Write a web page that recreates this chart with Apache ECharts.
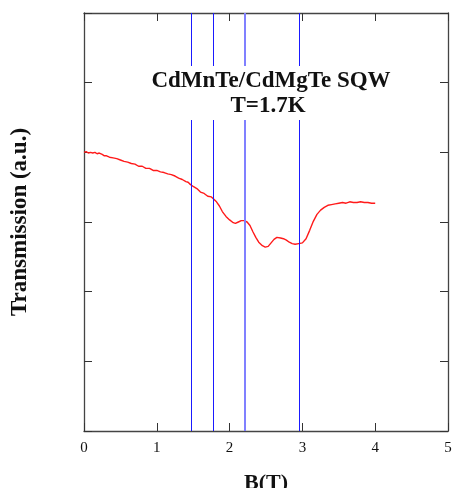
<!DOCTYPE html>
<html>
<head>
<meta charset="utf-8">
<script src="https://cdn.jsdelivr.net/npm/echarts@6/dist/echarts.min.js"></script>
<style>html,body{margin:0;padding:0;background:#fff;}#c{width:454px;height:488px;}</style>
</head>
<body>
<div id="c"></div>
<script>
const fieldB = [0.00,0.03,0.06,0.09,0.12,0.15,0.18,0.21,0.25,0.28,0.31,0.35,0.40,0.45,0.50,0.55,0.60,0.65,0.70,0.75,0.80,0.85,0.90,0.95,1.00,1.05,1.10,1.15,1.20,1.25,1.30,1.35,1.40,1.43,1.46,1.50,1.55,1.60,1.65,1.70,1.75,1.78,1.82,1.86,1.90,1.95,2.00,2.05,2.08,2.12,2.16,2.20,2.24,2.28,2.32,2.36,2.40,2.45,2.49,2.53,2.57,2.61,2.65,2.70,2.74,2.78,2.82,2.86,2.90,2.95,3.00,3.05,3.10,3.15,3.20,3.25,3.30,3.35,3.40,3.45,3.50,3.55,3.60,3.65,3.70,3.75,3.80,3.85,3.90,3.95,4.00];
const transmission = [4.00,4.01,3.99,4.00,3.99,4.00,3.98,3.99,3.97,3.95,3.95,3.93,3.92,3.91,3.89,3.87,3.86,3.84,3.83,3.80,3.80,3.77,3.77,3.74,3.74,3.72,3.71,3.69,3.68,3.66,3.63,3.61,3.58,3.57,3.54,3.51,3.48,3.43,3.41,3.37,3.36,3.33,3.29,3.23,3.15,3.08,3.03,2.99,2.98,3.00,3.02,3.02,3.00,2.95,2.86,2.78,2.71,2.66,2.64,2.65,2.70,2.75,2.78,2.77,2.76,2.74,2.71,2.69,2.68,2.69,2.70,2.76,2.88,3.01,3.11,3.17,3.21,3.24,3.25,3.26,3.27,3.28,3.27,3.29,3.28,3.28,3.29,3.28,3.28,3.27,3.27];
const markerFields = [1.48, 1.78, 2.215, 2.96];
const xTicks = [0,1,2,3,4,5];
const titleLines = ['CdMnTe/CdMgTe SQW', 'T=1.7K'];

const serif = '"Liberation Serif", "DejaVu Serif", serif';
const chart = echarts.init(document.getElementById('c'));
const axisLine = {show: true, onZero: false, lineStyle: {color: '#444', width: 1.3}};
const tick = {show: true, inside: true, length: 8, lineStyle: {color: '#333', width: 1}};
chart.setOption({
  animation: false,
  backgroundColor: '#fff',
  grid: {left: 84, right: 6, top: 13, bottom: 57, containLabel: false, outerBoundsMode: 'none'},
  xAxis: [{
    type: 'value', min: xTicks[0], max: xTicks[xTicks.length-1], interval: 1,
    axisLine: axisLine, axisTick: tick, splitLine: {show: false},
    axisLabel: {color: '#111', fontFamily: serif, fontSize: 15, margin: 10},
    name: 'B(T)', nameLocation: 'middle', nameGap: 41,
    nameTextStyle: {color: '#111', fontFamily: serif, fontSize: 22, fontWeight: 'bold'}
  }, {
    type: 'value', position: 'top', min: 0, max: 5, interval: 1,
    axisLine: axisLine, axisTick: tick, splitLine: {show: false}, axisLabel: {show: false}
  }],
  yAxis: [{
    type: 'value', min: 0, max: 6, interval: 1,
    axisLine: axisLine, axisTick: tick, splitLine: {show: false}, axisLabel: {show: false},
    name: 'Transmission (a.u.)', nameLocation: 'middle', nameGap: 52,
    nameTextStyle: {color: '#111', fontFamily: serif, fontSize: 23, fontWeight: 'bold'}
  }, {
    type: 'value', position: 'right', min: 0, max: 6, interval: 1,
    axisLine: axisLine, axisTick: tick, splitLine: {show: false}, axisLabel: {show: false}
  }],
  graphic: [
    {type: 'rect', z: 100, shape: {x: 180, y: 66, width: 190, height: 54}, style: {fill: '#fff'}},
    {type: 'text', z: 101, x: 271, y: 81, style: {text: titleLines[0], fill: '#111', font: 'bold 23px ' + serif, textAlign: 'center', textVerticalAlign: 'middle'}},
    {type: 'text', z: 101, x: 268, y: 106, style: {text: titleLines[1], fill: '#111', font: 'bold 23px ' + serif, textAlign: 'center', textVerticalAlign: 'middle'}}
  ],
  series: [{
    type: 'line',
    data: fieldB.map((b, i) => [b, transmission[i]]),
    showSymbol: false, symbol: 'none',
    lineStyle: {color: '#ff1a1a', width: 1.4},
    z: 3,
    markLine: {
      silent: true, symbol: 'none', label: {show: false},
      data: markerFields.map((v, i) => ({xAxis: v, lineStyle: i === 2 ? {color: '#8080ff', width: 2, type: 'solid'} : {color: '#1a1aff', width: 1, type: 'solid'}}))
    }
  }]
});
</script>
</body>
</html>
